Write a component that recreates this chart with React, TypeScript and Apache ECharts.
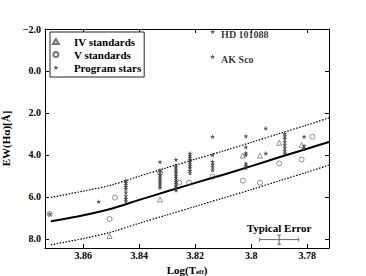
import React, { useEffect, useRef } from 'react';
import * as echarts from 'echarts';

const SERIF = '"Liberation Serif", "Times New Roman", serif';

// Axis extents (Log Teff reversed, EW reversed)
const X_MIN = 3.7722;
const X_MAX = 3.8737;
const Y_MIN = -2;
const Y_MAX = 8.43;

// IV standards (triangles)
const ivTeff = [3.8506, 3.8326, 3.803, 3.7969, 3.79, 3.782];
const ivEw = [7.86, 6.12, 4.03, 4.03, 3.42, 3.52];

// V standards (circles)
const vTeff = [3.872, 3.8487, 3.8506, 3.8326, 3.8257, 3.8222, 3.8138, 3.803, 3.7969, 3.79, 3.782, 3.7781];
const vEw = [6.81, 6.03, 7.05, 4.85, 5.32, 5.32, 5.03, 5.22, 5.32, 4.4, 4.22, 3.13];

// Program stars (asterisks)
const progTeff = [
  3.872, 3.8545,
  3.8448, 3.8448, 3.8448, 3.8448, 3.8448, 3.8448, 3.8448, 3.8448, 3.8448,
  3.8326, 3.8326, 3.8326, 3.8326, 3.8326, 3.8326, 3.8326, 3.8326, 3.8326, 3.8326,
  3.8269, 3.8269, 3.8269, 3.8269, 3.8269, 3.8269, 3.8269, 3.8269, 3.8269, 3.8269, 3.8269, 3.8269, 3.8269, 3.8269,
  3.8219, 3.8219, 3.8219, 3.8219, 3.8219, 3.8219, 3.8219, 3.8219, 3.8219, 3.8219,
  3.8138, 3.8138, 3.8138, 3.8138, 3.8138, 3.8138,
  3.8019, 3.8019, 3.8019, 3.8019, 3.8019, 3.8019, 3.8019,
  3.7948, 3.7948,
  3.788, 3.788, 3.788, 3.788, 3.788, 3.788, 3.788, 3.788,
  3.7811, 3.7811, 3.7811,
];
const progEw = [
  6.81, 6.22,
  5.22, 5.32, 5.42, 5.52, 5.62, 5.78, 5.95, 6.08, 6.2,
  4.33, 4.72, 4.82, 4.95, 5.05, 5.15, 5.25, 5.35, 5.45, 5.55,
  4.22, 4.48, 4.58, 4.68, 4.78, 4.88, 4.98, 5.08, 5.18, 5.28, 5.38, 5.48, 5.58, 5.68,
  3.92, 4.02, 4.12, 4.22, 4.32, 4.42, 4.52, 4.62, 4.74, 4.86,
  3.13, 4.0, 4.32, 4.45, 4.58, 4.72,
  3.1, 3.63, 3.9, 4.0, 4.4, 4.5, 4.62,
  2.73, 3.92,
  2.98, 3.1, 3.22, 3.38, 3.52, 3.66, 3.8, 3.92,
  3.13, 3.57, 3.7,
];

// Named program stars
const namedTeff = [3.8138, 3.8138];
const namedEw = [-1.87, -0.68];
const namedLabels = ['HD 101088', 'AK Sco'];

// Fit and envelope
const fitTeff = [3.8716, 3.86, 3.85, 3.84, 3.83, 3.82, 3.81, 3.8, 3.79, 3.78, 3.7722];
const fitEw = [7.16, 6.87, 6.56, 6.14, 5.73, 5.33, 4.94, 4.53, 4.11, 3.7, 3.38];
const upperEw = [6.02, 5.72, 5.43, 5.01, 4.6, 4.2, 3.81, 3.4, 2.98, 2.57, 2.23];
const lowerEw = [8.28, 7.98, 7.67, 7.25, 6.85, 6.45, 6.05, 5.65, 5.23, 4.82, 4.48];

// Typical error bar
const errTeff = [3.79];
const errEw = [8.03];
const errTeffHalf = 0.007;
const errEwHalf = 0.22;

const STAR = 'path://M0,-10L2.35,-3.24L9.51,-3.09L3.8,1.24L5.88,8.09L0,4L-5.88,8.09L-3.8,1.24L-9.51,-3.09L-2.35,-3.24Z';
const TRI = 'path://M0,-10L8.66,5L-8.66,5Z';
const CIRC = 'path://M0,-10A10,10 0 1,1 0,10A10,10 0 1,1 0,-10Z';

const pairs = (xs: number[], ys: number[]) => xs.map((x, i) => [x, ys[i]]);

export default function App() {
  const ref = useRef<HTMLDivElement>(null);
  useEffect(() => {
    const chart = echarts.init(ref.current!, null, { renderer: 'svg' });
    const tickStyle = { show: true, inside: true, length: 4, lineStyle: { color: '#000', width: 1 } };
    const lineStyle = { show: true, onZero: false, lineStyle: { color: '#000', width: 1 } };
    const labelFont = { fontFamily: SERIF, fontSize: 10, fontWeight: 'bold' as const, color: '#000' };
    const xBase = {
      type: 'value' as const,
      min: X_MIN,
      max: X_MAX,
      inverse: true,
      splitNumber: 5,
      minInterval: 0.02,
      maxInterval: 0.02,
      splitLine: { show: false },
      axisLine: lineStyle,
      axisTick: tickStyle,
    };
    const yBase = {
      type: 'value' as const,
      min: Y_MIN,
      max: Y_MAX,
      interval: 2,
      inverse: true,
      splitLine: { show: false },
      axisLine: lineStyle,
      axisTick: tickStyle,
    };
    chart.setOption({
      animation: false,
      backgroundColor: '#fff',
      grid: { left: 45, right: 37, top: 29, bottom: 28, containLabel: false, outerBoundsMode: 'none' },
      xAxis: [
        {
          ...xBase,
          position: 'bottom',
          axisLabel: {
            ...labelFont,
            margin: 2,
            showMinLabel: false,
            showMaxLabel: false,
            formatter: (v: number) => String(+v.toFixed(2)),
          },
          name: 'Log(T{s|eff})',
          nameLocation: 'middle',
          nameGap: 7,
          nameTextStyle: {
            fontFamily: SERIF,
            fontSize: 11,
            fontWeight: 'bold',
            color: '#000',
            rich: {
              s: { fontFamily: SERIF, fontSize: 7, fontWeight: 'bold', color: '#000', padding: [4, 0, 0, 0] },
            },
          },
        },
        { ...xBase, position: 'top', axisLabel: { show: false } },
      ],
      yAxis: [
        {
          ...yBase,
          position: 'left',
          axisLabel: {
            ...labelFont,
            margin: 4,
            showMaxLabel: false,
            formatter: (v: number) => (v < 0 ? '\u2212' + Math.abs(v).toFixed(1) : v.toFixed(1)),
          },
          name: 'EW(H\u03b1)[\u00c5]',
          nameLocation: 'middle',
          nameGap: 24,
          nameTextStyle: { fontFamily: SERIF, fontSize: 11, fontWeight: 'bold', color: '#000' },
        },
        { ...yBase, position: 'right', axisLabel: { show: false } },
      ],
      legend: {
        data: ['IV standards', 'V standards', 'Program stars'],
        orient: 'vertical',
        left: 50,
        top: 32,
        padding: [3, 3, 3, 2],
        itemWidth: 26,
        itemHeight: 5,
        itemGap: 0,
        symbolKeepAspect: true,
        borderColor: '#222',
        borderWidth: 1,
        backgroundColor: '#fff',
        selectedMode: false,
        textStyle: { fontFamily: SERIF, fontSize: 11, fontWeight: 'bold', color: '#000', lineHeight: 13 },
      },
      graphic: [
        {
          type: 'text',
          x: 279,
          y: 228,
          style: {
            text: 'Typical Error',
            fontFamily: SERIF,
            fontSize: 11,
            fontWeight: 'bold',
            fill: '#000',
            align: 'center',
            verticalAlign: 'middle',
          },
        },
      ],
      series: [
        {
          type: 'line',
          data: pairs(fitTeff, fitEw),
          showSymbol: false,
          smooth: 0.3,
          lineStyle: { color: '#000', width: 2 },
          silent: true,
          z: 2,
        },
        {
          type: 'line',
          data: pairs(fitTeff, upperEw),
          showSymbol: false,
          smooth: 0.3,
          lineStyle: { color: '#000', width: 1.2, type: [1.5, 1.5] },
          silent: true,
          z: 2,
        },
        {
          type: 'line',
          data: pairs(fitTeff, lowerEw),
          showSymbol: false,
          smooth: 0.3,
          lineStyle: { color: '#000', width: 1.2, type: [1.5, 1.5] },
          silent: true,
          z: 2,
        },
        {
          name: 'IV standards',
          type: 'scatter',
          data: pairs(ivTeff, ivEw),
          symbol: TRI,
          symbolSize: 5,
          itemStyle: { color: 'rgba(255,255,255,0)', borderColor: '#555', borderWidth: 0.8 },
          z: 3,
        },
        {
          name: 'V standards',
          type: 'scatter',
          data: pairs(vTeff, vEw),
          symbol: CIRC,
          symbolSize: 5,
          itemStyle: { color: 'rgba(255,255,255,0)', borderColor: '#555', borderWidth: 0.8 },
          z: 3,
        },
        {
          name: 'Program stars',
          type: 'scatter',
          data: pairs(progTeff, progEw),
          symbol: STAR,
          symbolSize: 5,
          itemStyle: { color: '#333' },
          z: 4,
        },
        {
          type: 'scatter',
          data: pairs(namedTeff, namedEw),
          symbol: STAR,
          symbolSize: 5,
          itemStyle: { color: '#333' },
          label: {
            show: true,
            position: 'right',
            distance: 6,
            offset: [0, 3],
            formatter: (p: any) => namedLabels[p.dataIndex],
            fontFamily: SERIF,
            fontSize: 10,
            fontWeight: 'bold',
            color: '#000',
          },
          z: 4,
        },
        {
          type: 'custom',
          silent: true,
          data: pairs(errTeff, errEw),
          renderItem: (_params: any, api: any) => {
            const x = api.value(0);
            const y = api.value(1);
            const l = api.coord([x + errTeffHalf, y]);
            const r = api.coord([x - errTeffHalf, y]);
            const t = api.coord([x, y - errEwHalf]);
            const b = api.coord([x, y + errEwHalf]);
            const cap = 2;
            const style = { stroke: '#666', lineWidth: 1 };
            const seg = (x1: number, y1: number, x2: number, y2: number) => ({
              type: 'line',
              shape: { x1, y1, x2, y2 },
              style,
            });
            return {
              type: 'group',
              children: [
                seg(l[0], l[1], r[0], r[1]),
                seg(l[0], l[1] - cap, l[0], l[1] + cap),
                seg(r[0], r[1] - cap, r[0], r[1] + cap),
                seg(t[0], t[1], b[0], b[1]),
                seg(t[0] - cap, t[1], t[0] + cap, t[1]),
                seg(b[0] - cap, b[1], b[0] + cap, b[1]),
              ],
            };
          },
          z: 3,
        },
      ],
    });
    return () => chart.dispose();
  }, []);
  return (
    <div
      ref={ref}
      style={{ position: 'absolute', left: 0, top: 0, width: 366, height: 276, background: '#fff' }}
    />
  );
}
